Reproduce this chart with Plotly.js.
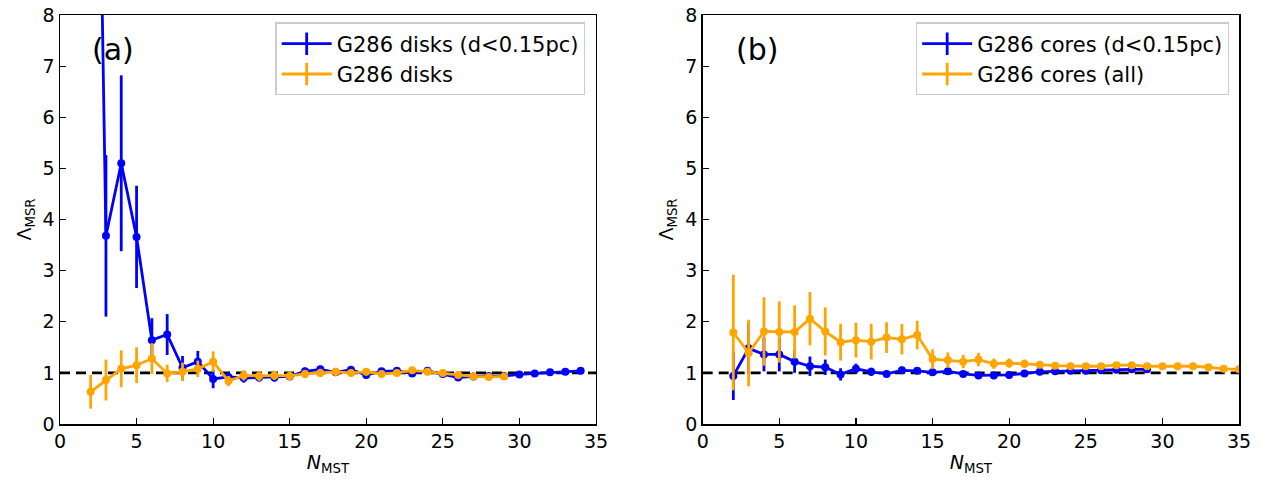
<!DOCTYPE html>
<html>
<head>
<meta charset="utf-8">
<script src="https://cdn.plot.ly/plotly-3.0.1.min.js"></script>
<style>body{margin:0;padding:0;background:#fff;} #chart{width:1261px;height:480px;}</style>
</head>
<body>
<div id="chart"></div>
<script>
// Panel (a): disks
const disksNearX = [2,3,4,5,6,7,8,9,10,11,12,13,14,15,16,17,18,19,20,21,22,23,24,25,26,27,28,29,30,31,32,33,34];
const disksNearY = [22,3.68,5.1,3.66,1.64,1.75,1.10,1.22,0.88,0.92,0.90,0.91,0.91,0.93,1.03,1.07,1.01,1.06,0.96,1.03,1.04,0.99,1.04,0.98,0.91,0.93,0.94,0.94,0.97,0.99,1.01,1.02,1.04];
const disksNearErr = [5,1.58,1.72,1.0,0.43,0.4,0.23,0.21,0.18,0.1,0.09,0.08,0.08,0.07,0.07,0.07,0.06,0.06,0.05,0.05,0.05,0.04,0.04,0.04,0.03,0.03,0.03,0.03,0.03,0.02,0.02,0.02,0.02];

const disksAllX = [2,3,4,5,6,7,8,9,10,11,12,13,14,15,16,17,18,19,20,21,22,23,24,25,26,27,28,29];
const disksAllY = [0.63,0.86,1.08,1.15,1.28,0.99,1.02,1.08,1.22,0.84,0.95,0.94,0.95,0.94,0.98,1.0,1.02,1.0,1.02,0.98,1.0,1.05,1.02,1.0,0.96,0.93,0.92,0.93];
const disksAllErr = [0.33,0.4,0.36,0.35,0.3,0.17,0.18,0.16,0.2,0.1,0.1,0.1,0.09,0.09,0.08,0.08,0.08,0.07,0.07,0.06,0.06,0.06,0.05,0.05,0.05,0.04,0.04,0.04];

// Panel (b): cores
const coresNearX = [2,3,4,5,6,7,8,9,10,11,12,13,14,15,16,17,18,19,20,21,22,23,24,25,26,27,28,29];
const coresNearY = [0.94,1.48,1.36,1.36,1.22,1.13,1.11,0.97,1.08,1.02,0.98,1.05,1.04,1.01,1.03,0.98,0.95,0.95,0.96,0.99,1.02,1.03,1.04,1.04,1.05,1.06,1.07,1.07];
const coresNearErr = [0.47,0.5,0.33,0.33,0.22,0.19,0.15,0.12,0.1,0.08,0.07,0.07,0.06,0.05,0.05,0.04,0.04,0.04,0.03,0.03,0.03,0.03,0.02,0.02,0.02,0.02,0.02,0.02];

const coresAllX = [2,3,4,5,6,7,8,9,10,11,12,13,14,15,16,17,18,19,20,21,22,23,24,25,26,27,28,29,30,31,32,33,34,35];
const coresAllY = [1.79,1.39,1.81,1.8,1.8,2.06,1.81,1.6,1.64,1.61,1.69,1.66,1.74,1.27,1.25,1.22,1.26,1.18,1.19,1.18,1.16,1.14,1.13,1.13,1.13,1.15,1.15,1.13,1.13,1.13,1.13,1.11,1.08,1.07];
const coresAllErr = [1.13,0.65,0.67,0.6,0.52,0.52,0.47,0.36,0.34,0.35,0.3,0.3,0.28,0.19,0.15,0.13,0.13,0.1,0.09,0.08,0.07,0.06,0.06,0.05,0.05,0.05,0.04,0.04,0.04,0.03,0.03,0.03,0.03,0.03];

const BLUE = '#0000ff', ORANGE = '#ffa500';
const FONT = 'DejaVu Sans, sans-serif';

function series(x, y, err, color, xa, ya) {
  return {
    x: x, y: y, xaxis: xa, yaxis: ya, type: 'scatter', mode: 'lines+markers',
    line: {color: color, width: 2.8},
    marker: {color: color, size: 8},
    error_y: {type: 'data', array: err, visible: true, color: color, thickness: 2.8, width: 0},
    showlegend: false, cliponaxis: true, hoverinfo: 'x+y'
  };
}
function legendItem(name, color, xa, ya, leg) {
  return {
    x: [null], y: [null], xaxis: xa, yaxis: ya, type: 'scatter', mode: 'lines+markers',
    name: name, legend: leg,
    line: {color: color, width: 2.8},
    marker: {color: color, symbol: 'line-ns-open', size: 22, line: {color: color, width: 2.8}},
    showlegend: true
  };
}

const data = [
  series(disksNearX, disksNearY, disksNearErr, BLUE, 'x', 'y'),
  series(disksAllX, disksAllY, disksAllErr, ORANGE, 'x', 'y'),
  series(coresNearX, coresNearY, coresNearErr, BLUE, 'x2', 'y2'),
  series(coresAllX, coresAllY, coresAllErr, ORANGE, 'x2', 'y2'),
  legendItem('G286 disks (d<0.15pc)', BLUE, 'x', 'y', 'legend'),
  legendItem('G286 disks', ORANGE, 'x', 'y', 'legend'),
  legendItem('G286 cores (d<0.15pc)', BLUE, 'x2', 'y2', 'legend2'),
  legendItem('G286 cores (all)', ORANGE, 'x2', 'y2', 'legend2')
];

function xaxisDef(domain, anchor) {
  return {
    domain: domain, anchor: anchor, range: [0, 35], tickmode: 'array',
    tickvals: [0,5,10,15,20,25,30,35], ticks: 'inside', ticklen: 6, tickwidth: 1.2, tickcolor: '#000',
    showline: true, linecolor: '#000', linewidth: 1.5, mirror: true, showgrid: false, zeroline: false,
    tickfont: {family: FONT, size: 19, color: '#000'},
    title: {text: '<i>N</i><sub>MST</sub>', font: {family: FONT, size: 19, color: '#000'}, standoff: 4}
  };
}
function yaxisDef(anchor) {
  return {
    domain: [0, 1], anchor: anchor, range: [0, 8], tickmode: 'array',
    tickvals: [0,1,2,3,4,5,6,7,8], ticks: 'inside', ticklen: 6, tickwidth: 1.2, tickcolor: '#000',
    showline: true, linecolor: '#000', linewidth: 1.5, mirror: true, showgrid: false, zeroline: false,
    tickfont: {family: FONT, size: 19, color: '#000'},
    title: {text: 'Λ<sub>MSR</sub>', font: {family: FONT, size: 19, color: '#000'}, standoff: 6}
  };
}

const legendCommon = {
  bgcolor: 'rgba(255,255,255,0.8)', bordercolor: '#cccccc', borderwidth: 1.2,
  font: {family: FONT, size: 21, color: '#000'}, xanchor: 'right', yanchor: 'top',
  tracegroupgap: 0, itemwidth: 50
};

const layout = {
  width: 1261, height: 480,
  margin: {l: 60, r: 22, t: 15, b: 56},
  paper_bgcolor: '#fff', plot_bgcolor: '#fff',
  showlegend: true,
  xaxis: xaxisDef([0, 0.4546], 'y'),
  yaxis: yaxisDef('x'),
  xaxis2: xaxisDef([0.5451, 1], 'y2'),
  yaxis2: yaxisDef('x2'),
  legend: Object.assign({}, legendCommon, {x: 0.4457, y: 0.982}),
  legend2: Object.assign({}, legendCommon, {x: 0.9915, y: 0.982}),
  shapes: [
    {type: 'line', xref: 'x', yref: 'y', x0: 0, x1: 35, y0: 1, y1: 1, layer: 'below',
     line: {color: '#000', width: 2.8, dash: '10px,6px'}},
    {type: 'line', xref: 'x2', yref: 'y2', x0: 0, x1: 35, y0: 1, y1: 1, layer: 'below',
     line: {color: '#000', width: 2.8, dash: '10px,6px'}}
  ],
  annotations: [
    {xref: 'x', yref: 'y', x: 3.45, y: 7.32, text: '(a)', showarrow: false,
     font: {family: FONT, size: 30, color: '#000'}},
    {xref: 'x2', yref: 'y2', x: 3.55, y: 7.32, text: '(b)', showarrow: false,
     font: {family: FONT, size: 30, color: '#000'}}
  ]
};

Plotly.newPlot('chart', data, layout, {displayModeBar: false, staticPlot: true});
</script>
</body>
</html>
